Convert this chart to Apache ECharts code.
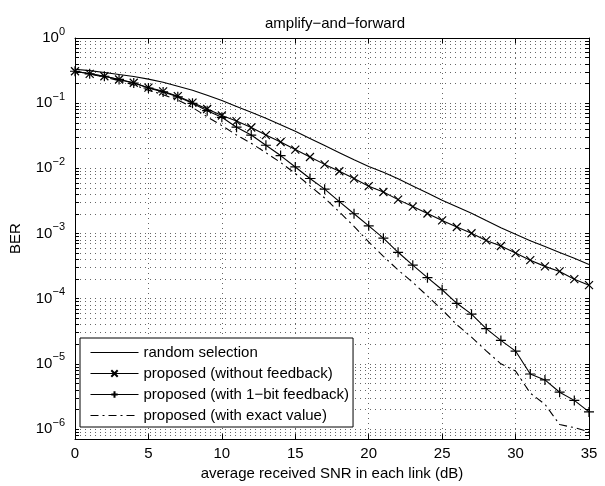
<!DOCTYPE html>
<html>
<head>
<meta charset="utf-8">
<title>amplify-and-forward</title>
<script src="https://cdn.jsdelivr.net/npm/echarts@6.0.0/dist/echarts.min.js"></script>
<style>
  html, body { margin: 0; padding: 0; background: #fff; }
  #main { width: 605px; height: 486px; }
</style>
</head>
<body>
<div id="main"></div>
<script>
var FONT = '"Liberation Sans", Arial, Helvetica, sans-serif'

var snr = [0, 1, 2, 3, 4, 5, 6, 7, 8, 9, 10, 11, 12, 13, 14, 15, 16, 17,
  18, 19, 20, 21, 22, 23, 24, 25, 26, 27, 28, 29, 30, 31, 32, 33, 34, 35]

var randomSelection = [0.331, 0.316, 0.295, 0.275, 0.257, 0.234, 0.209, 0.182, 0.158,
  0.132, 0.110, 0.0891, 0.0724, 0.0589, 0.0468, 0.0372, 0.0288, 0.0224, 0.0174, 0.0135,
  0.0107, 0.00871, 0.00692, 0.00537, 0.00417, 0.00324, 0.00257, 0.00204, 0.00158,
  0.00123, 0.000977, 0.000776, 0.000631, 0.000513, 0.000417, 0.000335]

var withoutFeedback = [0.309, 0.282, 0.259, 0.231, 0.206, 0.173, 0.152, 0.128, 0.102,
  0.0813, 0.0646, 0.0531, 0.0424, 0.0324, 0.0254, 0.0194, 0.0149, 0.0115, 0.00902,
  0.00697, 0.00533, 0.00433, 0.00331, 0.00259, 0.00203, 0.00159, 0.00126, 0.00101,
  0.000783, 0.000643, 0.000501, 0.00039, 0.000313, 0.000262, 0.000199, 0.000161]

var oneBitFeedback = [0.309, 0.282, 0.259, 0.231, 0.204, 0.171, 0.149, 0.125, 0.0995,
  0.0766, 0.0607, 0.0428, 0.0324, 0.0226, 0.0157, 0.0105, 0.00698, 0.00479, 0.00308,
  0.00201, 0.00131, 0.000849, 0.000515, 0.000327, 0.00021, 0.000137, 8.49e-5, 5.79e-5,
  3.47e-5, 2.29e-5, 1.57e-5, 6.98e-6, 5.66e-6, 3.67e-6, 2.75e-6, 1.83e-6]

var exactValue = [0.309, 0.279, 0.251, 0.221, 0.191, 0.158, 0.135, 0.112, 0.0859,
  0.0617, 0.0452, 0.0324, 0.0243, 0.0174, 0.0123, 0.00832, 0.00537, 0.00351, 0.00214,
  0.00129, 0.000741, 0.000447, 0.000275, 0.000178, 0.00011, 6.76e-5, 3.98e-5, 2.57e-5,
  1.58e-5, 1.0e-5, 7.76e-6, 3.55e-6, 2.4e-6, 1.17e-6, 1.05e-6, 9.1e-7]

var seriesNames = ['random selection', 'proposed (without feedback)',
  'proposed (with 1\u2212bit feedback)', 'proposed (with exact value)']

var decades = [1e-6, 1e-5, 1e-4, 1e-3, 1e-2, 1e-1, 1]

// log grid: 1..9 x 10^n, like matlab's minor grid
var gridTicks = []
for (var p = -7; p < 0; p++) {
  for (var k = 1; k < 10; k++) {
    var v = parseFloat((k * Math.pow(10, p)).toPrecision(3))
    if (v >= 7e-7) gridTicks.push(v)
  }
}
gridTicks.push(1)

var xMark = 'path://M0,0L10,10M0,10L10,0'
var plusMark = 'path://M0,5L10,5M5,0L5,10'

function toPoints(values) {
  return snr.map(function (x, i) { return [x, values[i]] })
}

function powerLabel(val) {
  var e = Math.round(Math.log10(val))
  return '{b|10}{s|' + (e < 0 ? '\u2212' + (-e) : e) + '}'
}

var gridLine = { show: true, lineStyle: { color: '#000', width: 1, type: [1, 4], opacity: 0.6 } }
var blackLine = { show: true, onZero: false, lineStyle: { color: '#000', width: 1 } }

var chart = echarts.init(document.getElementById('main'))
chart.setOption({
  animation: false,
  backgroundColor: '#fff',
  title: {
    text: 'amplify\u2212and\u2212forward',
    left: 330, top: 11, textAlign: 'center',
    textStyle: { fontFamily: FONT, fontSize: 15, fontWeight: 'normal', color: '#000' }
  },
  grid: { left: 72, right: 16, top: 38, bottom: 42 },
  legend: {
    orient: 'vertical', left: 80, top: 338,
    itemWidth: 48, itemHeight: 8, itemGap: 6,
    padding: [7, 4, 4, 10],
    backgroundColor: '#fff', borderColor: '#000', borderWidth: 1,
    selectedMode: false,
    lineStyle: { width: 1 },
    textStyle: { fontFamily: FONT, fontSize: 15, color: '#000' },
    data: [
      { name: seriesNames[0], itemStyle: { opacity: 0 } },
      { name: seriesNames[1] },
      { name: seriesNames[2] },
      { name: seriesNames[3], itemStyle: { opacity: 0 } }
    ]
  },
  xAxis: [{
    type: 'value', min: 0, max: 35, interval: 5,
    name: 'average received SNR in each link (dB)',
    nameLocation: 'middle', nameGap: 26,
    nameTextStyle: { fontFamily: FONT, fontSize: 15, color: '#000' },
    axisLine: blackLine,
    axisTick: { inside: true, length: 5, lineStyle: { color: '#000' } },
    axisLabel: { margin: 7, fontFamily: FONT, fontSize: 15, color: '#000' },
    splitLine: gridLine
  }, {
    type: 'value', min: 0, max: 35, interval: 5, position: 'top',
    axisLine: blackLine,
    axisTick: { inside: true, length: 5, lineStyle: { color: '#000' } },
    axisLabel: { show: false },
    splitLine: { show: false }
  }],
  yAxis: [{
    type: 'log', min: 7e-7, max: 1,
    name: 'BER', nameLocation: 'middle', nameGap: 52,
    nameTextStyle: { fontFamily: FONT, fontSize: 15, color: '#000' },
    axisLine: blackLine,
    axisTick: { inside: true, length: 4, customValues: gridTicks, lineStyle: { color: '#000' } },
    axisLabel: {
      customValues: decades, margin: 10, formatter: powerLabel,
      rich: {
        b: { fontFamily: FONT, fontSize: 15, lineHeight: 24, color: '#000' },
        s: { fontFamily: FONT, fontSize: 11, lineHeight: 11, verticalAlign: 'top', color: '#000' }
      }
    },
    splitLine: gridLine
  }, {
    type: 'log', min: 7e-7, max: 1, position: 'right',
    axisLine: blackLine,
    axisTick: { inside: true, length: 4, customValues: gridTicks, lineStyle: { color: '#000' } },
    axisLabel: { show: false },
    splitLine: { show: false }
  }],
  series: [{
    name: seriesNames[0], type: 'line', data: toPoints(randomSelection),
    symbol: 'none',
    lineStyle: { color: '#000', width: 1.1 },
    itemStyle: { color: '#000' }
  }, {
    name: seriesNames[1], type: 'line', data: toPoints(withoutFeedback),
    symbol: xMark, symbolSize: 8,
    lineStyle: { color: '#000', width: 1.1 },
    itemStyle: { color: '#000', borderColor: '#000', borderWidth: 1.2 }
  }, {
    name: seriesNames[2], type: 'line', data: toPoints(oneBitFeedback),
    symbol: plusMark, symbolSize: 10,
    lineStyle: { color: '#000', width: 1.1 },
    itemStyle: { color: '#000', borderColor: '#000', borderWidth: 1.2 }
  }, {
    name: seriesNames[3], type: 'line', data: toPoints(exactValue),
    symbol: 'none',
    lineStyle: { color: '#000', width: 1.1, type: [8, 4, 2, 4] },
    itemStyle: { color: '#000' }
  }]
})
</script>
</body>
</html>
